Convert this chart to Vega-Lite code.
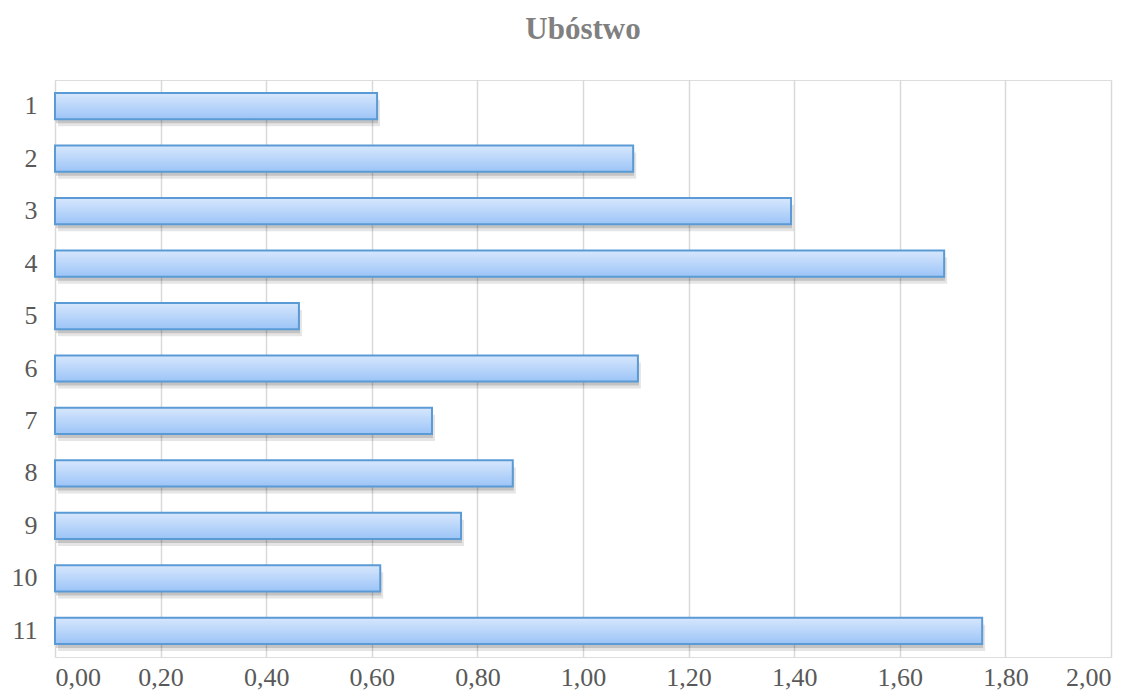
{
  "$schema": "https://vega.github.io/schema/vega-lite/v6.json",
  "width": 1133,
  "height": 690,
  "autosize": {"type": "fit", "contains": "padding"},
  "padding": {"left": 11, "right": 22, "top": 14, "bottom": 0},
  "background": "white",
  "title": {
    "text": "Ubóstwo",
    "font": "Liberation Serif",
    "fontSize": 31,
    "fontWeight": "bold",
    "color": "#808080",
    "offset": 34
  },
  "data": {
    "values": [
      {"k": "1", "v": 0.61},
      {"k": "2", "v": 1.095},
      {"k": "3", "v": 1.394},
      {"k": "4", "v": 1.684},
      {"k": "5", "v": 0.462},
      {"k": "6", "v": 1.104},
      {"k": "7", "v": 0.714},
      {"k": "8", "v": 0.867},
      {"k": "9", "v": 0.769},
      {"k": "10", "v": 0.616},
      {"k": "11", "v": 1.756}
    ]
  },
  "encoding": {
    "y": {
      "field": "k",
      "type": "ordinal",
      "sort": null,
      "scale": {"paddingInner": 0.5, "paddingOuter": 0.25},
      "axis": {
        "title": null,
        "domain": false,
        "ticks": false,
        "labelPadding": 18,
        "labelFont": "Liberation Serif",
        "labelFontSize": 26,
        "labelColor": "#595959"
      }
    },
    "x": {
      "field": "v",
      "type": "quantitative",
      "scale": {"domain": [0, 2], "nice": false},
      "axis": {
        "title": null,
        "domain": false,
        "ticks": false,
        "values": [0, 0.2, 0.4, 0.6, 0.8, 1.0, 1.2, 1.4, 1.6, 1.8, 2.0],
        "labelExpr": "replace(format(datum.value, '.2f'), '.', ',')",
        "labelPadding": 7,
        "labelFont": "Liberation Serif",
        "labelFontSize": 26,
        "labelColor": "#595959",
        "gridColor": "#d9d9d9",
        "gridWidth": 1.5
      }
    }
  },
  "layer": [
    {
      "mark": {"type": "bar", "fill": "#000000", "opacity": 0.1, "yOffset": 7, "xOffset": 3}
    },
    {
      "mark": {"type": "bar", "fill": "#000000", "opacity": 0.15, "yOffset": 4, "xOffset": 1}
    },
    {
      "mark": {
        "type": "bar",
        "fill": {
          "gradient": "linear",
          "x1": 0, "y1": 0, "x2": 0, "y2": 1,
          "stops": [
            {"offset": 0, "color": "#d7e7fd"},
            {"offset": 1, "color": "#9cc4f7"}
          ]
        },
        "stroke": "#5b9bd5",
        "strokeWidth": 2
      }
    }
  ]
}
